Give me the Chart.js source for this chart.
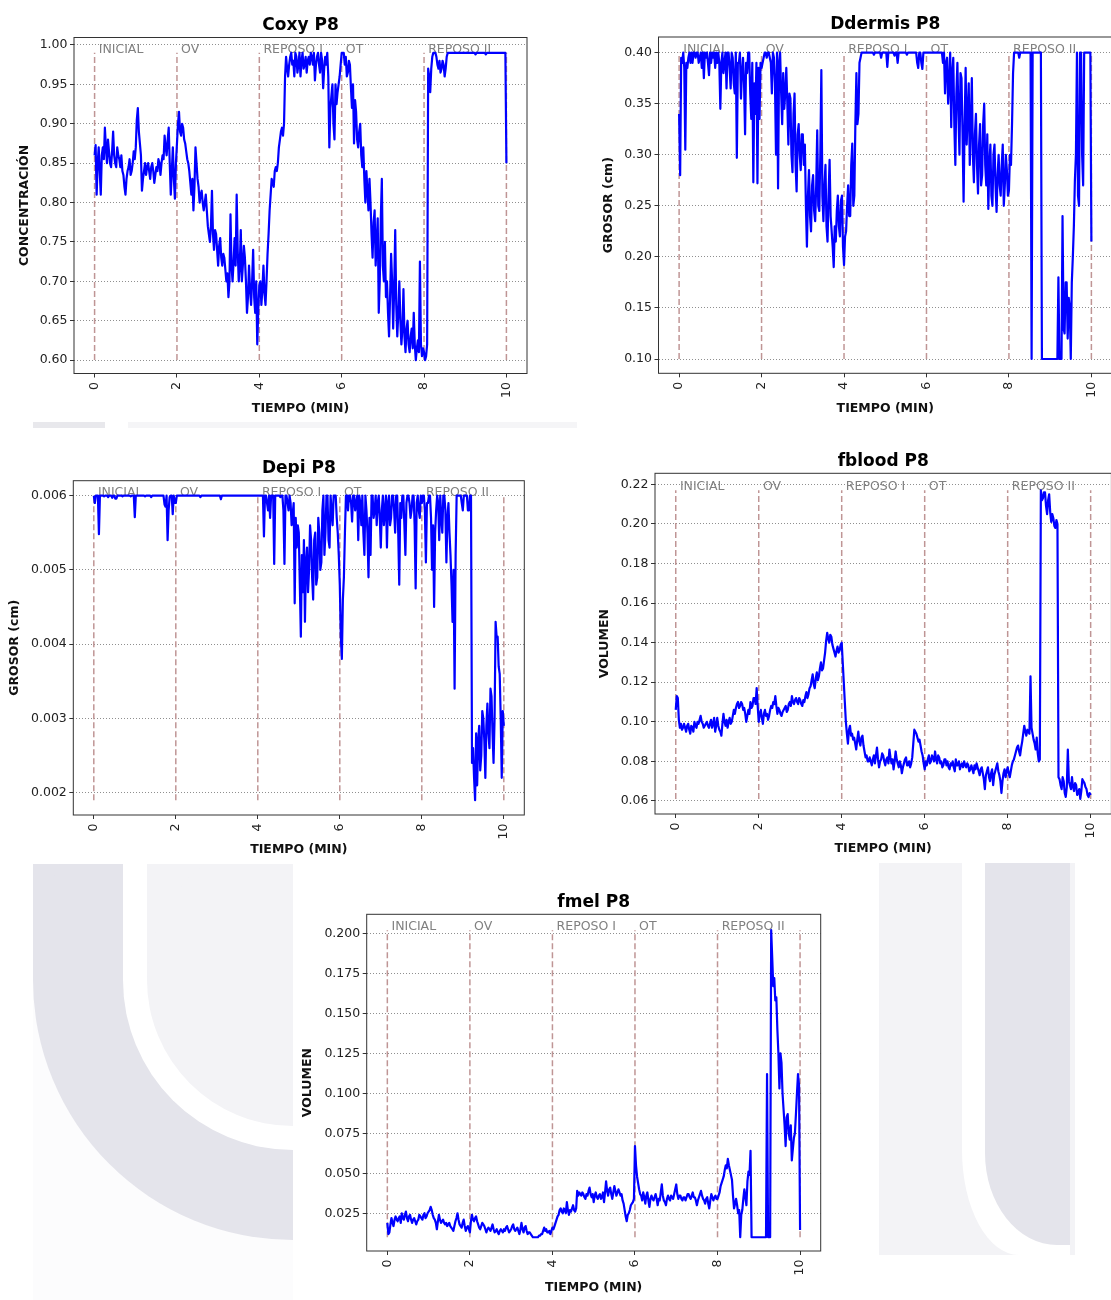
<!DOCTYPE html>
<html>
<head>
<meta charset="utf-8">
<title>P8</title>
<script src="https://cdn.jsdelivr.net/npm/chart.js@4.4.1/dist/chart.umd.min.js"></script>
<style>
  html, body { margin: 0; padding: 0; background: #fff; width: 1111px; height: 1300px; overflow: hidden; }
  canvas, .wm { position: absolute; }
  .wm div { position: absolute; }
  .oscuro { background: #e4e4eb; }
  .claro { background: #f3f3f6; }
  .blanco { background: #fff; }
</style>
</head>
<body>

<!-- scan marks behind the charts -->
<div class="wm" style="left:33px;top:422px;width:72px;height:6px;background:#e8e8ec"></div>
<div class="wm" style="left:128px;top:422px;width:449px;height:6px;background:#f5f5f7"></div>
<div class="wm" style="left:33px;top:864px;width:260px;height:436px;overflow:hidden;background:#fcfcfd">
  <div class="oscuro" style="left:0;top:0;width:260px;height:116px"></div>
  <div class="oscuro" style="left:0;top:-144px;width:520px;height:520px;border-radius:50%"></div>
  <div class="blanco" style="left:90px;top:0;width:170px;height:116px"></div>
  <div class="blanco" style="left:90px;top:-54px;width:340px;height:340px;border-radius:50%"></div>
  <div class="claro" style="left:114px;top:0;width:146px;height:116px"></div>
  <div class="claro" style="left:114px;top:-30px;width:292px;height:292px;border-radius:50%"></div>
</div>
<div class="wm claro" style="left:879px;top:863px;width:196px;height:392px">
  <div class="blanco" style="left:83px;top:0;width:108px;height:392px;border-bottom-left-radius:57px 105px"></div>
  <div class="oscuro" style="left:106px;top:0;width:85px;height:382px;border-bottom-left-radius:72px 92px"></div>
</div>

<canvas id="gCoxy"></canvas>
<canvas id="gDdermis"></canvas>
<canvas id="gDepi"></canvas>
<canvas id="gFblood"></canvas>
<canvas id="gFmel"></canvas>

<script>
const FUENTE = '"DejaVu Sans", "Liberation Sans", sans-serif';

// sample times (min), one every 0.025; each row below is one minute
const tiempo = Array.from({ length: 401 }, (_, i) => i / 40);
const ticksX = [0, 2, 4, 6, 8, 10];
const fases = [0, 2, 4, 6, 8, 10];
const nombresFase = ['INICIAL', 'OV', 'REPOSO I', 'OT', 'REPOSO II'];

// Coxy
const coxy = [
  0.86, 0.873, 0.81, 0.85, 0.87, 0.84, 0.81, 0.86, 0.87, 0.855, 0.895, 0.87, 0.85, 0.88, 0.865, 0.85, 0.845, 0.865, 0.89, 0.86, 0.85, 0.845, 0.87, 0.86, 0.855, 0.845, 0.86, 0.84, 0.835, 0.82, 0.81, 0.83, 0.84, 0.845, 0.855, 0.835, 0.84, 0.85, 0.865, 0.855,
  0.87, 0.905, 0.92, 0.89, 0.875, 0.86, 0.815, 0.83, 0.84, 0.85, 0.835, 0.845, 0.85, 0.84, 0.83, 0.845, 0.85, 0.84, 0.825, 0.835, 0.845, 0.84, 0.855, 0.85, 0.835, 0.85, 0.86, 0.855, 0.885, 0.87, 0.86, 0.88, 0.895, 0.85, 0.81, 0.84, 0.87, 0.83, 0.805, 0.85,
  0.875, 0.90, 0.915, 0.89, 0.885, 0.90, 0.895, 0.88, 0.875, 0.865, 0.855, 0.85, 0.84, 0.825, 0.81, 0.83, 0.79, 0.82, 0.87, 0.85, 0.83, 0.82, 0.80, 0.81, 0.815, 0.80, 0.79, 0.80, 0.81, 0.79, 0.77, 0.76, 0.75, 0.77, 0.815, 0.76, 0.74, 0.765, 0.76, 0.74,
  0.72, 0.745, 0.755, 0.73, 0.72, 0.735, 0.73, 0.715, 0.70, 0.71, 0.68, 0.70, 0.785, 0.72, 0.70, 0.725, 0.755, 0.72, 0.81, 0.74, 0.70, 0.72, 0.765, 0.70, 0.72, 0.745, 0.73, 0.70, 0.66, 0.68, 0.72, 0.69, 0.67, 0.70, 0.74, 0.68, 0.66, 0.70, 0.62, 0.665,
  0.695, 0.70, 0.67, 0.69, 0.72, 0.685, 0.67, 0.70, 0.735, 0.76, 0.79, 0.81, 0.83, 0.825, 0.82, 0.84, 0.845, 0.84, 0.85, 0.87, 0.88, 0.89, 0.895, 0.885, 0.90, 0.96, 0.985, 0.97, 0.96, 0.975, 0.985, 0.99, 0.975, 0.98, 0.96, 0.99, 0.985, 0.965, 0.975, 0.99,
  0.96, 0.98, 0.99, 0.97, 0.975, 0.985, 0.965, 0.98, 0.985, 0.975, 0.99, 0.985, 0.975, 0.99, 0.955, 0.975, 0.985, 0.99, 0.975, 0.965, 0.99, 0.98, 0.945, 0.97, 0.985, 0.975, 0.99, 0.96, 0.87, 0.92, 0.935, 0.95, 0.90, 0.88, 0.95, 0.925, 0.94, 0.95, 0.96, 0.975,
  0.99, 0.99, 0.99, 0.975, 0.985, 0.96, 0.965, 0.98, 0.975, 0.945, 0.92, 0.95, 0.875, 0.93, 0.915, 0.88, 0.87, 0.89, 0.90, 0.86, 0.845, 0.87, 0.83, 0.80, 0.84, 0.815, 0.79, 0.83, 0.80, 0.76, 0.73, 0.775, 0.79, 0.72, 0.75, 0.78, 0.66, 0.70, 0.78, 0.83,
  0.72, 0.70, 0.75, 0.68, 0.70, 0.66, 0.63, 0.68, 0.735, 0.70, 0.64, 0.69, 0.765, 0.67, 0.63, 0.66, 0.70, 0.65, 0.62, 0.64, 0.69, 0.63, 0.61, 0.64, 0.65, 0.62, 0.61, 0.63, 0.64, 0.615, 0.66, 0.62, 0.60, 0.615, 0.625, 0.61, 0.725, 0.62, 0.605, 0.615,
  0.61, 0.60, 0.605, 0.62, 0.97, 0.96, 0.94, 0.97, 0.985, 0.99, 0.99, 0.99, 0.985, 0.975, 0.97, 0.98, 0.965, 0.97, 0.98, 0.975, 0.96, 0.97, 0.985, 0.99, 0.99, 0.99, 0.99, 0.99, 0.99, 0.99, 0.99, 0.99, 0.99, 0.99, 0.99, 0.99, 0.99, 0.99, 0.99, 0.99,
  0.99, 0.99, 0.99, 0.99, 0.99, 0.99, 0.99, 0.99, 0.99, 0.99, 0.988, 0.99, 0.99, 0.99, 0.99, 0.99, 0.99, 0.99, 0.99, 0.99, 0.988, 0.99, 0.99, 0.99, 0.99, 0.99, 0.99, 0.99, 0.99, 0.99, 0.99, 0.99, 0.99, 0.99, 0.99, 0.99, 0.99, 0.99, 0.99, 0.99,
  0.85
];
const ticksCoxy = [0.60, 0.65, 0.70, 0.75, 0.80, 0.85, 0.90, 0.95, 1.00];

// Ddermis
const ddermis = [
  0.34, 0.28, 0.395, 0.39, 0.40, 0.385, 0.305, 0.39, 0.385, 0.395, 0.40, 0.39, 0.40, 0.39, 0.40, 0.40, 0.395, 0.40, 0.40, 0.39, 0.395, 0.40, 0.385, 0.40, 0.375, 0.40, 0.395, 0.40, 0.39, 0.378, 0.40, 0.39, 0.40, 0.395, 0.40, 0.385, 0.40, 0.39, 0.40, 0.39,
  0.345, 0.39, 0.40, 0.38, 0.39, 0.40, 0.365, 0.40, 0.40, 0.385, 0.365, 0.40, 0.395, 0.37, 0.36, 0.40, 0.297, 0.39, 0.39, 0.40, 0.355, 0.38, 0.395, 0.37, 0.32, 0.39, 0.38, 0.40, 0.40, 0.36, 0.335, 0.39, 0.273, 0.37, 0.34, 0.39, 0.272, 0.385, 0.335, 0.39,
  0.385, 0.39, 0.395, 0.40, 0.40, 0.395, 0.40, 0.40, 0.395, 0.39, 0.36, 0.40, 0.395, 0.37, 0.30, 0.40, 0.267, 0.39, 0.40, 0.36, 0.33, 0.38, 0.345, 0.36, 0.385, 0.35, 0.31, 0.36, 0.355, 0.30, 0.283, 0.34, 0.36, 0.29, 0.264, 0.32, 0.33, 0.30, 0.285, 0.32,
  0.32, 0.29, 0.31, 0.25, 0.21, 0.26, 0.285, 0.24, 0.225, 0.27, 0.28, 0.245, 0.235, 0.27, 0.324, 0.25, 0.245, 0.30, 0.383, 0.26, 0.235, 0.27, 0.29, 0.23, 0.215, 0.26, 0.295, 0.24, 0.225, 0.21, 0.19, 0.23, 0.215, 0.245, 0.26, 0.23, 0.22, 0.255, 0.26, 0.21,
  0.192, 0.22, 0.225, 0.25, 0.27, 0.24, 0.24, 0.29, 0.311, 0.25, 0.26, 0.33, 0.38, 0.33, 0.34, 0.39, 0.395, 0.40, 0.40, 0.40, 0.40, 0.40, 0.40, 0.40, 0.40, 0.40, 0.40, 0.40, 0.40, 0.398, 0.40, 0.40, 0.40, 0.40, 0.40, 0.40, 0.395, 0.40, 0.40, 0.40,
  0.40, 0.40, 0.386, 0.40, 0.40, 0.40, 0.40, 0.40, 0.40, 0.397, 0.40, 0.40, 0.39, 0.40, 0.40, 0.40, 0.40, 0.40, 0.40, 0.40, 0.40, 0.398, 0.40, 0.40, 0.40, 0.40, 0.40, 0.40, 0.40, 0.40, 0.40, 0.39, 0.385, 0.40, 0.40, 0.39, 0.384, 0.40, 0.40, 0.40,
  0.40, 0.40, 0.40, 0.40, 0.40, 0.40, 0.40, 0.40, 0.40, 0.40, 0.40, 0.40, 0.40, 0.40, 0.40, 0.40, 0.39, 0.40, 0.36, 0.39, 0.395, 0.35, 0.37, 0.40, 0.327, 0.38, 0.395, 0.33, 0.29, 0.36, 0.39, 0.34, 0.30, 0.38, 0.375, 0.32, 0.254, 0.33, 0.385, 0.31,
  0.34, 0.37, 0.29, 0.33, 0.375, 0.30, 0.273, 0.32, 0.34, 0.29, 0.262, 0.31, 0.33, 0.27, 0.28, 0.33, 0.35, 0.29, 0.27, 0.32, 0.247, 0.29, 0.31, 0.26, 0.25, 0.30, 0.31, 0.27, 0.244, 0.28, 0.30, 0.27, 0.26, 0.29, 0.31, 0.25, 0.27, 0.30, 0.285, 0.26,
  0.265, 0.30, 0.29, 0.33, 0.38, 0.40, 0.40, 0.40, 0.40, 0.40, 0.395, 0.40, 0.40, 0.40, 0.40, 0.40, 0.40, 0.40, 0.40, 0.40, 0.40, 0.40, 0.10, 0.40, 0.40, 0.40, 0.40, 0.40, 0.40, 0.40, 0.40, 0.40, 0.10, 0.10, 0.10, 0.10, 0.10, 0.10, 0.10, 0.10,
  0.10, 0.10, 0.10, 0.10, 0.10, 0.10, 0.10, 0.10, 0.18, 0.10, 0.10, 0.10, 0.24, 0.13, 0.125, 0.175, 0.175, 0.12, 0.16, 0.15, 0.10, 0.175, 0.20, 0.23, 0.275, 0.30, 0.40, 0.26, 0.25, 0.40, 0.40, 0.30, 0.27, 0.40, 0.40, 0.40, 0.40, 0.40, 0.40, 0.40,
  0.215
];
const ticksDdermis = [0.10, 0.15, 0.20, 0.25, 0.30, 0.35, 0.40];

// Depi
const depi = [
  0.006, 0.0059, 0.006, 0.006, 0.006, 0.00548, 0.006, 0.006, 0.006, 0.006, 0.00599, 0.006, 0.006, 0.006, 0.00598, 0.006, 0.006, 0.006, 0.00597, 0.006, 0.006, 0.00596, 0.00596, 0.006, 0.006, 0.006, 0.006, 0.006, 0.00599, 0.006, 0.006, 0.006, 0.006, 0.006, 0.006, 0.006, 0.00599, 0.006, 0.006, 0.006,
  0.00571, 0.006, 0.006, 0.006, 0.006, 0.006, 0.006, 0.006, 0.006, 0.006, 0.00599, 0.006, 0.006, 0.006, 0.006, 0.006, 0.00598, 0.006, 0.006, 0.006, 0.006, 0.006, 0.006, 0.006, 0.006, 0.006, 0.006, 0.006, 0.006, 0.00588, 0.00585, 0.006, 0.0054, 0.0058, 0.00598, 0.006, 0.006, 0.00575, 0.006, 0.0059,
  0.0059, 0.006, 0.006, 0.006, 0.006, 0.006, 0.006, 0.006, 0.006, 0.006, 0.006, 0.006, 0.006, 0.006, 0.006, 0.006, 0.006, 0.006, 0.006, 0.006, 0.006, 0.006, 0.006, 0.006, 0.00598, 0.006, 0.006, 0.006, 0.006, 0.006, 0.006, 0.006, 0.006, 0.006, 0.006, 0.006, 0.006, 0.006, 0.006, 0.006,
  0.006, 0.006, 0.006, 0.006, 0.00595, 0.006, 0.006, 0.006, 0.006, 0.006, 0.006, 0.006, 0.006, 0.006, 0.006, 0.006, 0.006, 0.006, 0.006, 0.006, 0.006, 0.006, 0.006, 0.006, 0.006, 0.006, 0.006, 0.006, 0.006, 0.006, 0.006, 0.006, 0.006, 0.006, 0.006, 0.006, 0.006, 0.006, 0.006, 0.006,
  0.006, 0.006, 0.006, 0.006, 0.006, 0.006, 0.00545, 0.006, 0.006, 0.0059, 0.0058, 0.006, 0.0057, 0.006, 0.006, 0.006, 0.00508, 0.006, 0.006, 0.006, 0.006, 0.006, 0.00598, 0.006, 0.006, 0.0058, 0.00508, 0.006, 0.006, 0.0059, 0.0058, 0.006, 0.0059, 0.0056, 0.00575, 0.0059, 0.00455, 0.0057, 0.0053, 0.0056,
  0.0055, 0.0048, 0.0041, 0.0052, 0.0047, 0.0054, 0.0043, 0.0051, 0.0053, 0.0047, 0.0050, 0.0056, 0.0054, 0.0049, 0.0046, 0.0054, 0.0055, 0.0048, 0.0049, 0.0057, 0.0055, 0.0050, 0.0051, 0.0058, 0.006, 0.0052, 0.0055, 0.006, 0.006, 0.0054, 0.0053, 0.006, 0.0058, 0.0056, 0.006, 0.006, 0.006, 0.0057, 0.0055, 0.0052,
  0.0048, 0.0041, 0.0038, 0.0046, 0.0049, 0.0055, 0.006, 0.006, 0.0058, 0.006, 0.006, 0.0059, 0.00565, 0.006, 0.006, 0.0058, 0.0059, 0.006, 0.0054, 0.006, 0.0059, 0.0056, 0.006, 0.0055, 0.0052, 0.006, 0.0058, 0.0055, 0.0049, 0.0057, 0.0052, 0.006, 0.006, 0.0057, 0.0058, 0.006, 0.0056, 0.0059, 0.006, 0.0057,
  0.0053, 0.0058, 0.006, 0.0056, 0.0058, 0.006, 0.0053, 0.0059, 0.006, 0.0056, 0.0057, 0.006, 0.006, 0.0058, 0.0055, 0.006, 0.006, 0.0055, 0.0048, 0.0059, 0.0057, 0.006, 0.006, 0.0056, 0.0052, 0.0059, 0.006, 0.006, 0.0059, 0.0057, 0.0058, 0.006, 0.006, 0.0056, 0.00475, 0.0059, 0.006, 0.0058, 0.0057, 0.006,
  0.0059, 0.006, 0.006, 0.0058, 0.0051, 0.0059, 0.0059, 0.006, 0.006, 0.0057, 0.0050, 0.0056, 0.0045, 0.0055, 0.0058, 0.006, 0.0059, 0.0054, 0.006, 0.0057, 0.0055, 0.006, 0.006, 0.0058, 0.0051, 0.0057, 0.0059, 0.0055, 0.0052, 0.0048, 0.0043, 0.0050, 0.0034, 0.0052, 0.006, 0.006, 0.006, 0.006, 0.006, 0.0059,
  0.0058, 0.006, 0.006, 0.006, 0.006, 0.0058, 0.0058, 0.006, 0.006, 0.0024, 0.0026, 0.0022, 0.0019, 0.0028, 0.0021, 0.0027, 0.0029, 0.0023, 0.0025, 0.0031, 0.0030, 0.0027, 0.0022, 0.0029, 0.0032, 0.0028, 0.0026, 0.0034, 0.0033, 0.0028, 0.0024, 0.0030, 0.0043, 0.0041, 0.0041, 0.0037, 0.0036, 0.0030, 0.0022, 0.0031,
  0.0029
];
const ticksDepi = [0.002, 0.003, 0.004, 0.005, 0.006];

// fblood
const fblood = [
  0.106, 0.113, 0.112, 0.101, 0.097, 0.099, 0.096, 0.097, 0.099, 0.097, 0.095, 0.098, 0.099, 0.096, 0.094, 0.098, 0.097, 0.095, 0.100, 0.098, 0.097, 0.100, 0.099, 0.101, 0.103, 0.100, 0.099, 0.097, 0.098, 0.099, 0.100, 0.098, 0.097, 0.099, 0.101, 0.097, 0.099, 0.102, 0.095, 0.098,
  0.102, 0.098, 0.096, 0.095, 0.093, 0.099, 0.104, 0.100, 0.098, 0.101, 0.097, 0.100, 0.102, 0.099, 0.100, 0.103, 0.106, 0.104, 0.107, 0.109, 0.110, 0.107, 0.108, 0.110, 0.109, 0.106, 0.107, 0.104, 0.100, 0.103, 0.106, 0.104, 0.110, 0.107, 0.108, 0.112, 0.112, 0.109, 0.117, 0.108,
  0.100, 0.104, 0.106, 0.102, 0.099, 0.104, 0.106, 0.103, 0.104, 0.101, 0.103, 0.106, 0.108, 0.107, 0.110, 0.109, 0.113, 0.108, 0.104, 0.107, 0.106, 0.104, 0.103, 0.105, 0.106, 0.107, 0.108, 0.105, 0.106, 0.109, 0.110, 0.108, 0.113, 0.110, 0.109, 0.111, 0.112, 0.110, 0.109, 0.112,
  0.111, 0.109, 0.108, 0.111, 0.110, 0.113, 0.115, 0.112, 0.114, 0.117, 0.118, 0.121, 0.124, 0.119, 0.117, 0.122, 0.125, 0.121, 0.123, 0.127, 0.130, 0.126, 0.127, 0.131, 0.135, 0.141, 0.145, 0.142, 0.140, 0.144, 0.143, 0.139, 0.137, 0.135, 0.133, 0.136, 0.138, 0.135, 0.136, 0.139,
  0.140, 0.130, 0.120, 0.110, 0.100, 0.094, 0.089, 0.096, 0.098, 0.093, 0.094, 0.091, 0.092, 0.089, 0.086, 0.091, 0.095, 0.090, 0.088, 0.092, 0.093, 0.088, 0.085, 0.082, 0.083, 0.080, 0.080, 0.082, 0.080, 0.078, 0.081, 0.083, 0.079, 0.083, 0.087, 0.081, 0.077, 0.080, 0.081, 0.084,
  0.083, 0.080, 0.078, 0.081, 0.082, 0.079, 0.086, 0.082, 0.079, 0.081, 0.076, 0.080, 0.085, 0.081, 0.079, 0.077, 0.080, 0.078, 0.074, 0.077, 0.079, 0.081, 0.082, 0.078, 0.078, 0.080, 0.077, 0.079, 0.082, 0.089, 0.096, 0.095, 0.094, 0.092, 0.090, 0.091, 0.088, 0.085, 0.083, 0.079,
  0.076, 0.080, 0.078, 0.081, 0.083, 0.079, 0.080, 0.083, 0.082, 0.080, 0.085, 0.081, 0.079, 0.083, 0.082, 0.079, 0.080, 0.077, 0.078, 0.081, 0.081, 0.078, 0.080, 0.077, 0.076, 0.079, 0.078, 0.080, 0.077, 0.075, 0.081, 0.078, 0.078, 0.080, 0.076, 0.078, 0.079, 0.077, 0.080, 0.078,
  0.077, 0.079, 0.078, 0.075, 0.076, 0.078, 0.076, 0.074, 0.078, 0.076, 0.079, 0.077, 0.075, 0.073, 0.076, 0.077, 0.074, 0.071, 0.066, 0.073, 0.075, 0.077, 0.072, 0.070, 0.074, 0.076, 0.068, 0.073, 0.075, 0.077, 0.079, 0.075, 0.073, 0.070, 0.064, 0.070, 0.074, 0.076, 0.072, 0.075,
  0.077, 0.074, 0.072, 0.075, 0.078, 0.080, 0.081, 0.083, 0.085, 0.087, 0.088, 0.085, 0.083, 0.087, 0.090, 0.094, 0.098, 0.095, 0.093, 0.096, 0.095, 0.094, 0.123, 0.097, 0.094, 0.091, 0.089, 0.086, 0.092, 0.084, 0.080, 0.081, 0.217, 0.212, 0.213, 0.216, 0.216, 0.209, 0.205, 0.212,
  0.215, 0.206, 0.201, 0.205, 0.203, 0.199, 0.198, 0.202, 0.200, 0.072, 0.071, 0.068, 0.066, 0.072, 0.070, 0.064, 0.062, 0.067, 0.086, 0.070, 0.068, 0.066, 0.072, 0.067, 0.065, 0.069, 0.068, 0.063, 0.064, 0.066, 0.061, 0.065, 0.071, 0.070, 0.069, 0.067, 0.066, 0.063, 0.062, 0.064,
  0.063
];
const ticksFblood = [0.06, 0.08, 0.10, 0.12, 0.14, 0.16, 0.18, 0.20, 0.22];

// fmel
const fmel = [
  0.019, 0.012, 0.013, 0.018, 0.022, 0.019, 0.017, 0.021, 0.023, 0.021, 0.020, 0.022, 0.023, 0.019, 0.025, 0.022, 0.021, 0.024, 0.026, 0.022, 0.020, 0.023, 0.024, 0.021, 0.019, 0.021, 0.022, 0.020, 0.018, 0.020, 0.021, 0.024, 0.023, 0.022, 0.021, 0.024, 0.025, 0.022, 0.023, 0.025,
  0.026, 0.027, 0.029, 0.027, 0.024, 0.022, 0.021, 0.019, 0.015, 0.020, 0.024, 0.021, 0.019, 0.020, 0.021, 0.019, 0.018, 0.019, 0.017, 0.018, 0.019, 0.017, 0.016, 0.015, 0.014, 0.017, 0.020, 0.022, 0.025, 0.021, 0.018, 0.017, 0.016, 0.019, 0.021, 0.017, 0.014, 0.016, 0.017, 0.015,
  0.013, 0.020, 0.024, 0.021, 0.020, 0.022, 0.023, 0.020, 0.018, 0.016, 0.015, 0.017, 0.019, 0.018, 0.017, 0.015, 0.013, 0.015, 0.016, 0.015, 0.014, 0.016, 0.018, 0.015, 0.013, 0.014, 0.015, 0.013, 0.012, 0.014, 0.015, 0.014, 0.013, 0.015, 0.014, 0.016, 0.017, 0.015, 0.013, 0.014,
  0.015, 0.017, 0.018, 0.015, 0.014, 0.015, 0.016, 0.014, 0.012, 0.015, 0.019, 0.015, 0.013, 0.016, 0.017, 0.014, 0.012, 0.013, 0.013, 0.012, 0.011, 0.010, 0.010, 0.010, 0.010, 0.010, 0.010, 0.011, 0.011, 0.012, 0.012, 0.014, 0.016, 0.014, 0.015, 0.013, 0.013, 0.014, 0.012, 0.014,
  0.016, 0.015, 0.017, 0.019, 0.021, 0.023, 0.024, 0.027, 0.028, 0.026, 0.025, 0.028, 0.027, 0.025, 0.032, 0.027, 0.024, 0.027, 0.026, 0.028, 0.030, 0.027, 0.026, 0.028, 0.039, 0.036, 0.038, 0.037, 0.036, 0.038, 0.037, 0.035, 0.034, 0.037, 0.036, 0.039, 0.041, 0.037, 0.035, 0.037,
  0.032, 0.036, 0.038, 0.035, 0.034, 0.036, 0.037, 0.034, 0.035, 0.038, 0.032, 0.038, 0.045, 0.039, 0.036, 0.040, 0.041, 0.037, 0.034, 0.038, 0.042, 0.039, 0.036, 0.038, 0.040, 0.038, 0.036, 0.037, 0.033, 0.031, 0.027, 0.023, 0.020, 0.024, 0.025, 0.027, 0.030, 0.031, 0.032, 0.034,
  0.067, 0.055, 0.048, 0.044, 0.040, 0.037, 0.036, 0.033, 0.038, 0.035, 0.031, 0.036, 0.038, 0.033, 0.029, 0.034, 0.036, 0.034, 0.033, 0.035, 0.037, 0.034, 0.030, 0.034, 0.033, 0.038, 0.043, 0.036, 0.033, 0.032, 0.030, 0.034, 0.036, 0.034, 0.033, 0.036, 0.035, 0.034, 0.037, 0.040,
  0.043, 0.037, 0.034, 0.036, 0.036, 0.034, 0.033, 0.035, 0.035, 0.033, 0.035, 0.037, 0.037, 0.035, 0.034, 0.036, 0.038, 0.035, 0.035, 0.033, 0.030, 0.033, 0.035, 0.037, 0.039, 0.036, 0.034, 0.033, 0.031, 0.034, 0.035, 0.031, 0.028, 0.033, 0.037, 0.035, 0.033, 0.035, 0.036, 0.034,
  0.034, 0.036, 0.038, 0.042, 0.044, 0.046, 0.048, 0.052, 0.055, 0.053, 0.059, 0.055, 0.052, 0.049, 0.046, 0.036, 0.028, 0.031, 0.034, 0.030, 0.025, 0.027, 0.010, 0.024, 0.027, 0.034, 0.040, 0.035, 0.030, 0.045, 0.051, 0.049, 0.064, 0.010, 0.010, 0.010, 0.010, 0.010, 0.010, 0.010,
  0.010, 0.010, 0.010, 0.010, 0.010, 0.010, 0.010, 0.010, 0.112, 0.010, 0.010, 0.010, 0.202, 0.185, 0.167, 0.172, 0.158, 0.160, 0.140, 0.125, 0.103, 0.125, 0.119, 0.100, 0.090, 0.080, 0.067, 0.085, 0.087, 0.075, 0.071, 0.080, 0.058, 0.065, 0.072, 0.075, 0.087, 0.100, 0.112, 0.105,
  0.0146
];
const ticksFmel = [0.025, 0.050, 0.075, 0.100, 0.125, 0.150, 0.175, 0.200];

// phase labels, frame and title drawn on each chart
const decorado = {
  id: 'decorado',
  beforeDatasetsDraw(chart, args, o) {
    const { ctx, scales: { x, y } } = chart;
    ctx.save();
    ctx.font = '12.5px ' + FUENTE;
    ctx.fillStyle = '#808080';
    ctx.textAlign = 'left';
    ctx.textBaseline = 'alphabetic';
    nombresFase.forEach((n, i) => {
      ctx.fillText(n, x.getPixelForValue(fases[i] + 0.1), y.getPixelForValue(o.tope));
    });
    ctx.restore();
  },
  afterDraw(chart, args, o) {
    const { ctx, chartArea: a } = chart;
    ctx.save();
    ctx.strokeStyle = '#333';
    ctx.lineWidth = 1;
    ctx.strokeRect(a.left, a.top, a.right - a.left, a.bottom - a.top);
    ctx.font = 'bold 17px ' + FUENTE;
    ctx.fillStyle = '#000';
    ctx.textAlign = 'center';
    ctx.textBaseline = 'alphabetic';
    ctx.fillText(o.titulo, (a.left + a.right) / 2, a.top - o.dy);
    ctx.restore();
  }
};

function grafica(id, titulo, ejeY, valores, ticksY, dec, yMin, yMax, c) {
  const el = document.getElementById(id);
  el.width = c.w;
  el.height = c.h;
  el.style.left = c.x + 'px';
  el.style.top = c.y + 'px';

  const lo = Math.min(...valores);
  const hi = Math.max(...valores);

  const datasets = [{
    data: valores.map((v, i) => ({ x: tiempo[i], y: v })),
    borderColor: '#0000ff',
    borderWidth: 2.2,
    borderJoinStyle: 'round',
    pointRadius: 0,
    tension: 0,
    fill: false,
    order: 0
  }];
  fases.forEach(f => datasets.push({
    data: [{ x: f, y: lo }, { x: f, y: hi }],
    borderColor: 'rgba(188,143,143,0.95)',
    borderWidth: 1.5,
    borderDash: [6, 3],
    pointRadius: 0,
    fill: false,
    order: 1
  }));

  const fuenteTick = { family: FUENTE, size: 12.5 };
  const fuenteEje = { family: FUENTE, size: 12.5, weight: 'bold' };

  new Chart(el, {
    type: 'line',
    data: { datasets },
    plugins: [decorado],
    options: {
      responsive: false,
      animation: false,
      devicePixelRatio: 1,
      layout: { padding: { top: c.T - c.y, left: 0, right: c.x + c.w - c.R, bottom: 0 } },
      plugins: {
        legend: { display: false },
        tooltip: { enabled: false },
        decorado: { titulo, tope: hi, dy: c.dy }
      },
      scales: {
        x: {
          type: 'linear',
          min: -0.5,
          max: 10.5,
          afterBuildTicks: s => { s.ticks = ticksX.map(v => ({ value: v })); },
          afterFit: s => { s.height = c.y + c.h - c.B; },
          ticks: { minRotation: 90, maxRotation: 90, padding: 4.5, color: '#222', font: fuenteTick, callback: v => String(v) },
          grid: { drawOnChartArea: false, drawTicks: true, tickLength: 4, tickColor: '#333', tickWidth: 1 },
          border: { display: false },
          title: { display: true, text: 'TIEMPO (MIN)', color: '#111', font: fuenteEje, padding: { top: 0, bottom: c.y + c.h - c.xTit - 7.5 } }
        },
        y: {
          type: 'linear',
          min: yMin,
          max: yMax,
          afterBuildTicks: s => { s.ticks = ticksY.map(v => ({ value: v })); },
          afterFit: s => { s.width = c.L - c.x; },
          ticks: { padding: 2.5, color: '#222', font: fuenteTick, callback: v => v.toFixed(dec) },
          grid: { color: '#8f8f8f', lineWidth: 1, drawTicks: true, tickLength: 4, tickColor: '#333', tickWidth: 1, tickBorderDash: [] },
          border: { display: false, dash: [1, 2] },
          title: { display: true, text: ejeY, color: '#111', font: fuenteEje, padding: { top: c.yTit - c.x - 7.5, bottom: 0 } }
        }
      }
    }
  });
}

grafica('gCoxy', 'Coxy P8', 'CONCENTRACIÓN', coxy, ticksCoxy, 2, 0.583, 1.0095,
  { x: 0, y: 0, w: 540, h: 420, L: 74, T: 37.5, R: 527, B: 373.5, yTit: 24.3, xTit: 409, dy: 7.5 });
grafica('gDdermis', 'Ddermis P8', 'GROSOR (cm)', ddermis, ticksDdermis, 2, 0.086, 0.4153,
  { x: 575, y: 0, w: 545, h: 420, L: 658.5, T: 37, R: 1112, B: 373.3, yTit: 608.3, xTit: 408.7, dy: 8.5 });
grafica('gDepi', 'Depi P8', 'GROSOR (cm)', depi, ticksDepi, 3, 0.0017, 0.0062,
  { x: 0, y: 440, w: 540, h: 420, L: 73.3, T: 480.7, R: 524.3, B: 815, yTit: 15, xTit: 849.5, dy: 8.2 });
grafica('gFblood', 'fblood P8', 'VOLUMEN', fblood, ticksFblood, 2, 0.0534, 0.2256,
  { x: 575, y: 440, w: 545, h: 420, L: 655, T: 473.3, R: 1111.4, B: 814, yTit: 604.6, xTit: 848.8, dy: 7.3 });
grafica('gFmel', 'fmel P8', 'VOLUMEN', fmel, ticksFmel, 3, 0.0014, 0.2119,
  { x: 290, y: 870, w: 545, h: 430, L: 366.7, T: 914.3, R: 820.7, B: 1251, yTit: 308, xTit: 1288, dy: 7 });
</script>
</body>
</html>
